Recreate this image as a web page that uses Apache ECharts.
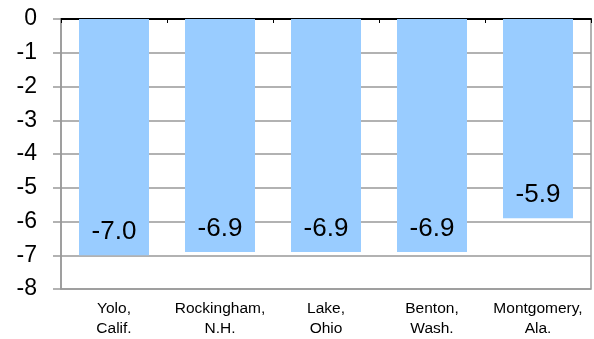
<!DOCTYPE html>
<html>
<head>
<meta charset="utf-8">
<script src="https://cdn.jsdelivr.net/npm/echarts@6/dist/echarts.min.js"></script>
<style>
  html, body { margin: 0; padding: 0; background: #fff; }
  #main { width: 594px; height: 339px; }
</style>
</head>
<body>
<div id="main"></div>
<script>
var counties = ['Yolo,\nCalif.', 'Rockingham,\nN.H.', 'Lake,\nOhio', 'Benton,\nWash.', 'Montgomery,\nAla.'];
var changes = [-7.0, -6.9, -6.9, -6.9, -5.9];

var chart = echarts.init(document.getElementById('main'));

var option = {
  animation: false,
  grid: {
    left: 61,
    right: 3,
    top: 19,
    bottom: 49,
    show: true,
    borderColor: '#999',
    borderWidth: 1.5,
  },
  xAxis: [
    {
      type: 'category',
      data: counties,
      position: 'bottom',
      axisLine: { show: false },
      axisTick: { show: false },
      axisLabel: {
        interval: 0,
        color: '#000',
        fontFamily: 'Liberation Sans, Arial',
        fontSize: 15.5,
        lineHeight: 20,
        margin: 10,
      },
    },
    {
      // black zero line at the top with little ticks
      type: 'category',
      data: counties,
      position: 'top',
      axisLine: { show: true, onZero: false, lineStyle: { color: '#000', width: 2 } },
      axisTick: { show: true, inside: true, length: 4, lineStyle: { color: '#000', width: 1 } },
      axisLabel: { show: false },
    },
  ],
  yAxis: {
    type: 'value',
    min: -8,
    max: 0,
    interval: 1,
    axisLine: { show: true, lineStyle: { color: '#999', width: 1.5 } },
    axisTick: { show: true, length: 8, lineStyle: { color: '#999', width: 1.5 } },
    splitLine: { show: true, lineStyle: { color: '#999', width: 1.5 } },
    axisLabel: {
      color: '#000',
      fontFamily: 'Liberation Sans, Arial',
      fontSize: 23,
      margin: 24,
    },
  },
  series: [
    {
      type: 'bar',
      data: changes,
      barWidth: 70,
      itemStyle: { color: '#99CCFF' },
      label: {
        show: true,
        position: 'insideBottom',
        distance: 10,
        color: '#000',
        fontFamily: 'Liberation Sans, Arial',
        fontSize: 26,
        formatter: function (p) { return p.value.toFixed(1); },
      },
    },
  ],
};
chart.setOption(option);
</script>
</body>
</html>
